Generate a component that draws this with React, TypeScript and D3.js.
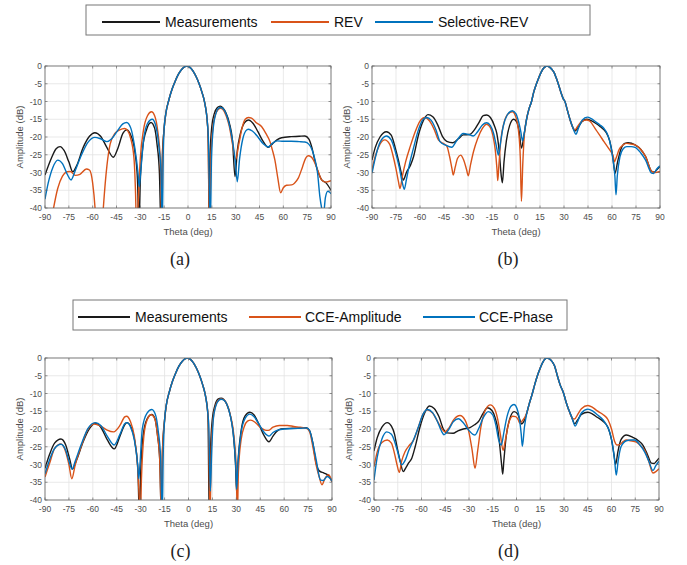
import React from "react";
import * as d3 from "d3";

type Pt = [number, number];

const thetaTicks = [-90, -75, -60, -45, -30, -15, 0, 15, 30, 45, 60, 75, 90];
const ampTicks = [0, -5, -10, -15, -20, -25, -30, -35, -40];
const legendTop = ["Measurements", "REV", "Selective-REV"];
const legendBottom = ["Measurements", "CCE-Amplitude", "CCE-Phase"];
const panelLabels = ["(a)", "(b)", "(c)", "(d)"];
const seriesColors = ["#1a1a1a", "#d95319", "#0072bd"];

// main beam, broadside (panels a, c)
const lobeBroad: Pt[] = [
  [-15, -17.5], [-14, -13.5], [-12, -9.5], [-10, -6.5], [-8, -4.2], [-6, -2.3], [-4, -1],
  [-2, -0.2], [-0.8, 0], [1, -0.3], [3, -1.3], [5, -2.9], [7, -5], [9, -7.7], [10, -9.3],
  [11, -11.5], [12, -15],
];
// main beam, steered to ~19 deg (panels b, d)
const lobeSteerB: Pt[] = [
  [6.6, -15], [8, -12.3], [9.7, -10], [11, -7.5], [12.8, -5], [14.5, -3], [16, -1.5],
  [17.5, -0.5], [19.3, 0], [21, -0.3], [22.5, -1], [24, -2], [25, -3.2], [26.4, -5],
  [28, -7.3], [29.5, -9.2], [30.6, -10], [32, -12.3], [33.7, -15], [35.5, -17.3],
];
const lobeSteerD: Pt[] = [
  [6.5, -15.5], [8, -13], [10, -10], [11.5, -7.5], [13.2, -5], [15, -2.8], [16.5, -1.3],
  [18, -0.3], [19.3, 0], [21, -0.3], [22.5, -1], [24, -2.2], [25.8, -5], [27.5, -7.5],
  [29.8, -10], [31.5, -12.7], [33, -14.6], [35, -16.8],
];

const measA: Pt[] = [
  [-90, -30.7], [-86, -26], [-83, -23.3], [-80.5, -22.7], [-78, -23.8], [-75, -27], [-72.5, -29.8],
  [-70, -28], [-66, -23], [-62, -19.8], [-58.6, -18.8], [-55, -19.8], [-51, -23], [-47, -25.7],
  [-44, -23], [-41, -19], [-38.5, -18], [-36, -19.5], [-33.5, -24], [-31.8, -32], [-30.9, -45],
  [-30, -32], [-28.5, -23], [-26, -17.8], [-23.3, -15.9], [-21, -17.5], [-19.5, -22], [-18, -30],
  [-17, -45], [-16.2, -26], ...lobeBroad, [12.8, -22], [13.3, -45], [14, -24], [15, -17],
  [16.5, -13.5], [18.5, -11.7], [20.3, -11.3], [22, -11.8], [24, -13.3], [26, -16], [28, -21],
  [29.6, -31.2], [31, -24], [33, -19], [35.5, -16], [38, -15.2], [41, -16.2], [44, -18.5],
  [47, -21], [50.5, -22.9], [53, -22], [56, -20.8], [58.9, -20.2], [65, -19.9], [70, -19.8],
  [73.6, -19.7], [76, -20.5], [78, -23], [80, -27], [82, -30], [84, -32], [87, -33], [90, -35],
];
const revA: Pt[] = [
  [-90, -52], [-86.5, -45], [-84.6, -40], [-82, -34.5], [-79, -31], [-76, -29.8], [-74, -29.7],
  [-71, -30.8], [-68, -30.5], [-64, -29], [-62, -29.3], [-60, -33], [-58.5, -40], [-57, -52],
  [-55, -52], [-53.3, -40], [-51, -28], [-49, -22], [-46, -19], [-43, -18], [-40, -17.6],
  [-38, -18.2], [-36, -20.5], [-34, -26], [-33, -36], [-32.3, -48], [-31.3, -38], [-30, -26],
  [-28, -18], [-25.5, -14], [-23, -12.9], [-21, -14], [-19, -18.5], [-17.5, -26], [-16.5, -45],
  [-15.8, -24], ...lobeBroad, [12.6, -19], [13.5, -45], [14.5, -25], [15.5, -18], [17, -14],
  [19, -12.3], [20.5, -11.9], [22, -12.3], [24, -14], [26, -17], [28, -22], [30, -26.3],
  [32, -22], [34, -17.5], [36, -15], [38, -14.5], [40, -14.7], [43, -16], [46.4, -17.1],
  [49, -19], [51.6, -21.3], [53, -23.5], [54.7, -26.5], [56.5, -31.5], [58.3, -35.7],
  [60, -34.3], [62, -33.6], [65.2, -33.5], [67, -33], [69.4, -31.6], [72, -28.5], [74, -26],
  [75.7, -25.3], [77.5, -25.6], [79, -26.5], [82, -29.8], [84, -32], [86.5, -32.7], [90, -32.3],
];
const selA: Pt[] = [
  [-90, -37.5], [-88, -33], [-85, -28.5], [-82, -26.5], [-79, -27.5], [-76, -30.5], [-73.6, -32.1],
  [-71, -29.5], [-67, -25], [-63, -21.5], [-58.6, -20.1], [-55, -20.5], [-51, -21.3], [-48, -20.5],
  [-44, -18], [-41, -16.3], [-38.6, -15.9], [-36, -17.5], [-33.5, -23], [-31.5, -30], [-30.7, -34],
  [-29.8, -30], [-28, -21], [-25.5, -16.2], [-22.5, -15], [-20.5, -16.5], [-18.5, -22], [-17, -30],
  [-16.2, -45], [-15.6, -25], ...lobeBroad, [12.8, -20], [14, -45], [14.8, -26], [16, -17],
  [17.5, -13.5], [19, -12], [20.5, -11.7], [22, -12], [24, -13.5], [26, -16.5], [28, -21],
  [29.8, -27], [31, -32.6], [32.5, -26], [34.5, -20.5], [36.5, -18.2], [38, -17.8], [40.5, -18.3],
  [44, -20], [47.5, -22], [50.5, -22.8], [53, -21.8], [56, -21.1], [60, -21.2], [65, -21.2],
  [70, -21.3], [73.6, -21.4], [76, -22], [78, -23.5], [80, -26.5], [81.5, -30], [83, -36.8],
  [84.1, -40], [85.2, -42], [86.5, -37], [88, -35.3], [89, -35.5], [90, -36],
];

const measB: Pt[] = [
  [-90, -26.5], [-88, -23], [-85, -20], [-81, -18.5], [-78, -19.5], [-75.5, -23], [-73.5, -26.5],
  [-71.5, -30.5], [-70.4, -32.1], [-68.5, -30], [-66, -28], [-64, -25.5], [-61, -19.5], [-58, -15.5],
  [-55, -13.7], [-52, -14.3], [-49, -16.5], [-46, -19.8], [-43.3, -21.2], [-39.5, -21.6], [-36, -20.5],
  [-33, -19.4], [-29, -19.3], [-26, -18], [-23, -15.8], [-20.5, -14], [-18.3, -13.8], [-16, -14.5],
  [-13.5, -16.8], [-12, -19], [-10.5, -24], [-9.2, -31], [-8.5, -32.9], [-7.5, -27], [-6, -21],
  [-4, -16.8], [-1.5, -15], [0.5, -15.8], [2, -18.5], [3.4, -23.1], [5, -19.5], ...lobeSteerB,
  [36.8, -18.3], [38.5, -17.5], [41, -15.8], [44, -15], [47, -15.4], [50, -16.2], [52.5, -17],
  [55, -18], [56.6, -18.9], [58.5, -21], [60.5, -25.5], [61.9, -30.2], [63.5, -27], [65.5, -23.5],
  [68, -21.8], [70, -21.6], [74.4, -22.2], [78, -23.5], [81, -25.5], [84.8, -29.7], [86.5, -29.9],
  [88, -29.2], [90, -28.3],
];
const revB: Pt[] = [
  [-90, -29.3], [-88, -25.5], [-85, -22], [-82, -20.8], [-79, -22], [-77, -25], [-75, -29],
  [-73.5, -32.5], [-72.5, -34.5], [-71, -31], [-69, -27], [-66, -22.5], [-63, -18.5], [-60, -15.5],
  [-57, -14.5], [-54, -15.5], [-51, -18], [-48.5, -20.8], [-45.5, -21.8], [-43.3, -22.5],
  [-41.5, -25.5], [-40, -29], [-39.2, -30.7], [-38, -28.5], [-36.5, -26], [-34.6, -25.1],
  [-32.7, -26.5], [-31, -29], [-29.8, -30.9], [-28.5, -28], [-26.5, -24], [-24, -20.5], [-21, -17.6],
  [-18.5, -16.4], [-16.5, -17], [-14.5, -19.5], [-13, -23.5], [-11.9, -29], [-11.4, -32.3],
  [-10.7, -28], [-9.5, -21], [-7.5, -16], [-5, -13.5], [-2.3, -12.9], [0, -14.5], [1.5, -18],
  [2.7, -26], [3.4, -38.1], [4.2, -28], [5.3, -19], ...lobeSteerB, [36.8, -18], [38.5, -17],
  [41, -15.6], [44, -15.2], [46, -15.5], [50, -18], [55, -21.3], [58, -23.3], [60.8, -25.5],
  [61.5, -27], [62.5, -26], [64.5, -23.5], [67, -22.2], [69.2, -21.8], [72, -22], [74.4, -22.2],
  [78, -23.5], [81, -25.5], [84.8, -29.7], [87, -30], [90, -29.7],
];
const selB: Pt[] = [
  [-90, -30.2], [-88, -26], [-85, -21.5], [-81, -19.7], [-78, -20.8], [-75.5, -24], [-73, -28.5],
  [-71, -33], [-69.8, -34.7], [-68.5, -32], [-66.5, -27.5], [-64, -23], [-61, -18], [-58, -15],
  [-55.8, -14.5], [-53, -15.3], [-50, -18], [-47.5, -21.3], [-44, -22.3], [-40.2, -22.9], [-37, -21],
  [-33, -19], [-29.5, -19.3], [-26.7, -19.7], [-24, -18.5], [-21, -16.6], [-18.3, -16], [-16, -16.8],
  [-14, -19], [-12.3, -22.5], [-11, -25.1], [-9.8, -22], [-8, -17], [-5.5, -13.8], [-2.3, -12.6],
  [0, -13.5], [1.5, -15.5], [3, -18.5], [4.1, -21.1], [5.2, -18.8], ...lobeSteerB, [37.5, -19.2],
  [39, -17.5], [41.5, -15.2], [44.5, -14.4], [47, -14.8], [50, -15.8], [52.5, -16.6], [55, -17.6],
  [56.6, -18.7], [58.5, -21], [60.5, -26], [61.8, -31], [62.5, -36.3], [63.3, -31], [65, -25.5],
  [67, -23.3], [69.2, -22.7], [72, -22.7], [74.4, -22.9], [78, -24.5], [81, -26.5], [84.8, -30.2],
  [86, -30.3], [88, -29], [90, -28.1],
];

const measC: Pt[] = [
  [-90, -31.1], [-87, -27], [-84, -24], [-80, -22.8], [-77, -24.5], [-74.5, -28.5], [-72.8, -31.3],
  [-70, -28.5], [-66, -23.5], [-62, -19.8], [-58.5, -18.4], [-55, -19.5], [-51, -23], [-46.6, -25.6],
  [-43, -22], [-40, -18.8], [-38.6, -18.2], [-36, -19.5], [-33.5, -24], [-31.7, -32], [-30.8, -45],
  [-30, -32], [-28.5, -22], [-26, -17.2], [-23, -15.9], [-21, -17.2], [-19.5, -21.5], [-18, -29],
  [-17, -45], [-16.3, -26], ...lobeBroad, [12.3, -18], [13, -45], [13.8, -26], [15, -17],
  [16.5, -13.5], [18.5, -11.6], [20.5, -11.3], [22, -11.6], [24, -13], [26, -15.8], [28, -21],
  [29.5, -30], [30.2, -38], [31, -30], [33, -20.5], [35.5, -16.3], [38.5, -15.3], [41, -16],
  [44, -18.5], [47, -21.5], [50.5, -23.6], [53, -22], [55.5, -20.6], [58, -20], [65, -19.8],
  [70, -19.7], [74, -19.6], [76, -20.5], [78, -24], [80, -29.5], [82, -31.8], [85, -32.4],
  [88, -33.2], [90, -34.8],
];
const revC: Pt[] = [
  [-90, -33.5], [-87, -29.5], [-84, -25.5], [-80, -24.2], [-77, -26.5], [-75, -30], [-73.2, -34],
  [-71, -30], [-67, -24.5], [-63, -20], [-59, -18.6], [-55, -19.2], [-51, -20.3], [-47, -20.8],
  [-43, -19], [-40, -16.6], [-38.8, -16.4], [-36.5, -17.8], [-34, -22], [-32, -30], [-30.8, -40],
  [-30.2, -45], [-29.5, -34], [-28, -22], [-26, -17.5], [-23.5, -16], [-21, -17.3], [-19.5, -21.5],
  [-18, -29], [-17, -45], [-16.3, -26], ...lobeBroad, [12.5, -18], [13.5, -45], [14.3, -25],
  [15.5, -17], [17, -13.5], [19, -11.8], [20.7, -11.5], [22.5, -11.9], [24.5, -13.5], [26.5, -16.5],
  [28.5, -22], [30, -32], [30.6, -45], [31.3, -32], [33, -23], [35, -19.3], [37, -17.8], [39, -17.5],
  [42, -18.2], [45, -19.5], [48, -20.3], [50, -20.4], [53, -19.5], [57, -19], [62, -19], [66, -19.3],
  [70, -19.5], [74, -19.8], [76, -20.8], [78, -25], [80, -30], [82, -33.5], [83.7, -35.7],
  [85.5, -34], [88, -32.9], [89, -33.6], [90, -34.9],
];
const selC: Pt[] = [
  [-90, -32.6], [-87, -28.5], [-84, -25.5], [-80, -24.3], [-77, -26], [-75, -29], [-73, -31.3],
  [-71, -29], [-67, -24], [-63, -19.8], [-58.5, -18.2], [-55, -19], [-51, -22], [-46.7, -24.5],
  [-43, -21.5], [-40, -18.5], [-38.8, -18.2], [-36.3, -19.5], [-34, -23], [-32, -29.5], [-31.2, -34],
  [-30.3, -29], [-29, -20], [-26, -15.5], [-23, -14.5], [-20.5, -16.3], [-19, -20.5], [-17.5, -28],
  [-16.5, -45], [-15.8, -26], ...lobeBroad, [12.7, -19], [13.7, -37.5], [14.5, -27], [15.5, -17.5],
  [17, -13.7], [19, -11.9], [20.5, -11.6], [22.5, -12], [24.5, -13.5], [26.5, -16.8], [28.5, -23],
  [29.8, -32], [30.2, -37], [31, -30], [33, -21], [35.5, -17], [38.5, -15.8], [41, -16.5],
  [44, -18.5], [47.5, -21], [50.5, -22], [53, -21], [56, -20.3], [60, -20], [66, -19.9], [70, -19.8],
  [74, -19.7], [76, -20.5], [78, -24], [80, -28.5], [82.7, -34.3], [84.5, -34.5], [86.9, -33.4],
  [88.5, -33.8], [90, -34.7],
];

const measD: Pt[] = [
  [-90, -26.2], [-88, -22.5], [-85, -19.5], [-81.6, -18.2], [-79, -19.2], [-77, -21.5], [-75.7, -24.5],
  [-73.5, -29], [-71.5, -32], [-70, -31], [-68, -29.5], [-66.2, -28.3], [-64, -25], [-61, -19.5],
  [-58, -15.5], [-55.1, -13.5], [-52, -14.2], [-49, -16.5], [-46, -20.2], [-44, -21.1], [-40, -21.2],
  [-37, -20.5], [-33.6, -20], [-29.4, -19.6], [-26.5, -18.8], [-24, -17.9], [-21, -15.5],
  [-18.3, -14], [-15.5, -14.8], [-13.5, -16.8], [-12, -19.5], [-10.5, -25], [-9.3, -30.5],
  [-8.7, -32.7], [-8, -29], [-6.5, -22], [-4.5, -17.5], [-1.5, -15.1], [0.8, -15.8], [2.2, -17.5],
  [3.2, -18.6], [4.5, -18], ...lobeSteerD, [36.7, -18.5], [38.5, -17.5], [41, -15.9], [45.1, -15.3],
  [48, -15.8], [51, -16.7], [54.6, -17.8], [57.8, -19.6], [60, -23], [61.5, -27], [62.6, -30],
  [64, -26.5], [66, -23], [69.4, -21.7], [73.6, -22.4], [77, -23.3], [79.9, -24.6], [82.5, -27],
  [85.2, -29.6], [87, -29.7], [88.5, -29], [90, -28.2],
];
const revD: Pt[] = [
  [-90, -30.6], [-88, -26.5], [-85, -23.8], [-81.6, -23.1], [-79, -24], [-77, -27], [-75.5, -30],
  [-74, -32.2], [-72.5, -29], [-70.4, -26.4], [-67.5, -24.5], [-65.2, -23.3], [-62, -19.5],
  [-59, -15.8], [-56.7, -14.6], [-53, -15.5], [-50, -17.8], [-47, -20], [-45.2, -20.8],
  [-42.5, -19.6], [-39.5, -17.3], [-35.7, -16.2], [-32.5, -17.5], [-30, -21], [-28, -26],
  [-26.2, -31.1], [-24.5, -26], [-22.5, -19.5], [-19.5, -14.5], [-16.5, -13.2], [-14, -14.2],
  [-12, -17], [-10.2, -21.5], [-8.5, -26], [-7, -23], [-5, -18.5], [-2.5, -16.4], [-0.5, -16.5],
  [1, -17.3], [2, -18.3], [3.5, -17.8], ...lobeSteerD, [36.7, -17.2], [38.5, -16], [41, -14.3],
  [45.1, -13.4], [48, -13.9], [51, -14.9], [54.6, -15.9], [57.8, -17.4], [60, -20], [62, -23.5],
  [63.5, -24.5], [65.5, -24.3], [67.5, -23.5], [69.4, -23.1], [72, -23.3], [75.7, -23.7], [79, -25],
  [81, -26], [83.5, -29], [86.2, -32.4], [88, -32], [90, -31.2],
];
const selD: Pt[] = [
  [-90, -34.4], [-88, -28], [-85, -22.8], [-82, -20.8], [-79, -21.5], [-77, -23.5], [-75, -26.5],
  [-72.5, -30.1], [-70.5, -29], [-68, -26], [-65, -23], [-62, -19.5], [-59, -15.8], [-56.3, -14.5],
  [-53, -15.4], [-50, -17.8], [-47.5, -20.5], [-45.8, -21.6], [-43, -20.3], [-40, -18],
  [-36.7, -17.1], [-33.5, -18.3], [-30.4, -20.2], [-27.5, -21.5], [-26.2, -21.7], [-24, -20],
  [-21, -16.8], [-17.8, -15.1], [-15, -16], [-13, -19], [-11.3, -23], [-9.6, -24.5], [-8, -21],
  [-6, -16.5], [-3.5, -13.6], [-1.6, -13.1], [0.3, -14.2], [1.8, -17], [3, -21.5], [3.7, -24.9],
  [5, -19.5], ...lobeSteerD, [37.1, -19.2], [38.5, -18], [41, -15.5], [45.1, -14.4], [48, -14.9],
  [51, -16], [54.6, -17.4], [57, -19], [58.8, -20.8], [60.5, -24], [62, -29], [63, -33], [64.2, -29],
  [66, -25], [69.4, -23.3], [72, -23.1], [74.6, -23.1], [78, -24.5], [81, -26.5], [83.5, -29],
  [86.2, -31.7], [88, -30.3], [90, -29.1],
];

const W = 687;
const H = 565;
const FONT = "'Liberation Sans', Arial, Helvetica, sans-serif";
const GRAY = "#4d4d4d";

type Box = { left: number; right: number; top: number; bottom: number };

const panels: { id: string; box: Box; lines: Pt[][] }[] = [
  { id: "a", box: { left: 45, right: 331, top: 66, bottom: 208 }, lines: [measA, revA, selA] },
  { id: "b", box: { left: 372, right: 660, top: 66, bottom: 208 }, lines: [measB, revB, selB] },
  { id: "c", box: { left: 45, right: 332, top: 358, bottom: 500 }, lines: [measC, revC, selC] },
  { id: "d", box: { left: 374, right: 659, top: 358, bottom: 500 }, lines: [measD, revD, selD] },
];

function Panel({ id, box, lines, label }: { id: string; box: Box; lines: Pt[][]; label: string }) {
  const x = d3.scaleLinear().domain([-90, 90]).range([box.left, box.right]);
  const y = d3.scaleLinear().domain([-40, 0]).range([box.bottom, box.top]);
  const line = d3
    .line<Pt>()
    .x((d) => x(d[0]))
    .y((d) => y(d[1]))
    .curve(d3.curveMonotoneX);
  const cx = (box.left + box.right) / 2;
  const cy = (box.top + box.bottom) / 2;

  return (
    <g>
      <defs>
        <clipPath id={`clip-${id}`}>
          <rect x={box.left} y={box.top} width={box.right - box.left} height={box.bottom - box.top} />
        </clipPath>
      </defs>
      <rect x={box.left} y={box.top} width={box.right - box.left} height={box.bottom - box.top} fill="#fff" />
      {thetaTicks.map((t) => (
        <line key={"gx" + t} x1={x(t)} x2={x(t)} y1={box.top} y2={box.bottom} stroke="#e3e3e3" strokeWidth={0.8} />
      ))}
      {ampTicks.map((t) => (
        <line key={"gy" + t} x1={box.left} x2={box.right} y1={y(t)} y2={y(t)} stroke="#e3e3e3" strokeWidth={0.8} />
      ))}
      <g clipPath={`url(#clip-${id})`}>
        {lines.map((data, i) => (
          <path key={i} d={line(data) || ""} fill="none" stroke={seriesColors[i]} strokeWidth={1.4} strokeLinejoin="round" />
        ))}
      </g>
      <rect x={box.left} y={box.top} width={box.right - box.left} height={box.bottom - box.top} fill="none" stroke="#666" strokeWidth={0.8} />
      {thetaTicks.map((t) => (
        <g key={"tx" + t}>
          <line x1={x(t)} x2={x(t)} y1={box.bottom} y2={box.bottom - 2.5} stroke="#666" strokeWidth={0.7} />
          <line x1={x(t)} x2={x(t)} y1={box.top} y2={box.top + 2.5} stroke="#666" strokeWidth={0.7} />
          <text x={x(t)} y={box.bottom + 12} textAnchor="middle" fontSize={8.5} fill={GRAY} fontFamily={FONT}>
            {t}
          </text>
        </g>
      ))}
      {ampTicks.map((t) => (
        <g key={"ty" + t}>
          <line x1={box.left} x2={box.left + 2.5} y1={y(t)} y2={y(t)} stroke="#666" strokeWidth={0.7} />
          <line x1={box.right} x2={box.right - 2.5} y1={y(t)} y2={y(t)} stroke="#666" strokeWidth={0.7} />
          <text x={box.left - 3} y={y(t) + 3} textAnchor="end" fontSize={8.5} fill={GRAY} fontFamily={FONT}>
            {t}
          </text>
        </g>
      ))}
      <text x={cx} y={box.bottom + 27} textAnchor="middle" fontSize={9.5} fill={GRAY} fontFamily={FONT}>
        Theta (deg)
      </text>
      <text
        transform={`translate(${box.left - 22},${cy}) rotate(-90)`}
        textAnchor="middle"
        fontSize={9.5}
        fill={GRAY}
        fontFamily={FONT}
      >
        Amplitude (dB)
      </text>
      <text x={cx - 8} y={box.bottom + 57} textAnchor="middle" fontSize={18} fill="#222" fontFamily="'Liberation Serif', 'Times New Roman', serif">
        {label}
      </text>
    </g>
  );
}

function Legend({ x0, y0, w, items, lineStarts, textStarts, lineLen }: {
  x0: number; y0: number; w: number; items: string[]; lineStarts: number[]; textStarts: number[]; lineLen: number;
}) {
  const my = y0 + 17;
  return (
    <g>
      <rect x={x0} y={y0} width={w} height={30} fill="#fff" stroke="#777" strokeWidth={1} />
      {items.map((name, i) => (
        <g key={name}>
          <line x1={lineStarts[i]} x2={lineStarts[i] + lineLen} y1={my} y2={my} stroke={seriesColors[i]} strokeWidth={2.2} />
          <text x={textStarts[i]} y={my + 5} fontSize={14} fill="#111" fontFamily={FONT}>
            {name}
          </text>
        </g>
      ))}
    </g>
  );
}

export default function App() {
  return (
    <svg
      width={W}
      height={H}
      viewBox={`0 0 ${W} ${H}`}
      style={{ position: "absolute", left: 0, top: 0, background: "#fff" }}
    >
      <rect width={W} height={H} fill="#fff" />
      {panels.map((p, i) => (
        <Panel key={p.id} id={p.id} box={p.box} lines={p.lines} label={panelLabels[i]} />
      ))}
      <Legend x0={86} y0={5} w={504} items={legendTop} lineStarts={[102, 271, 375]} textStarts={[165, 334, 438]} lineLen={58} />
      <Legend x0={73} y0={300} w={494} items={legendBottom} lineStarts={[78, 249, 423]} textStarts={[135, 305, 479]} lineLen={52} />
    </svg>
  );
}
